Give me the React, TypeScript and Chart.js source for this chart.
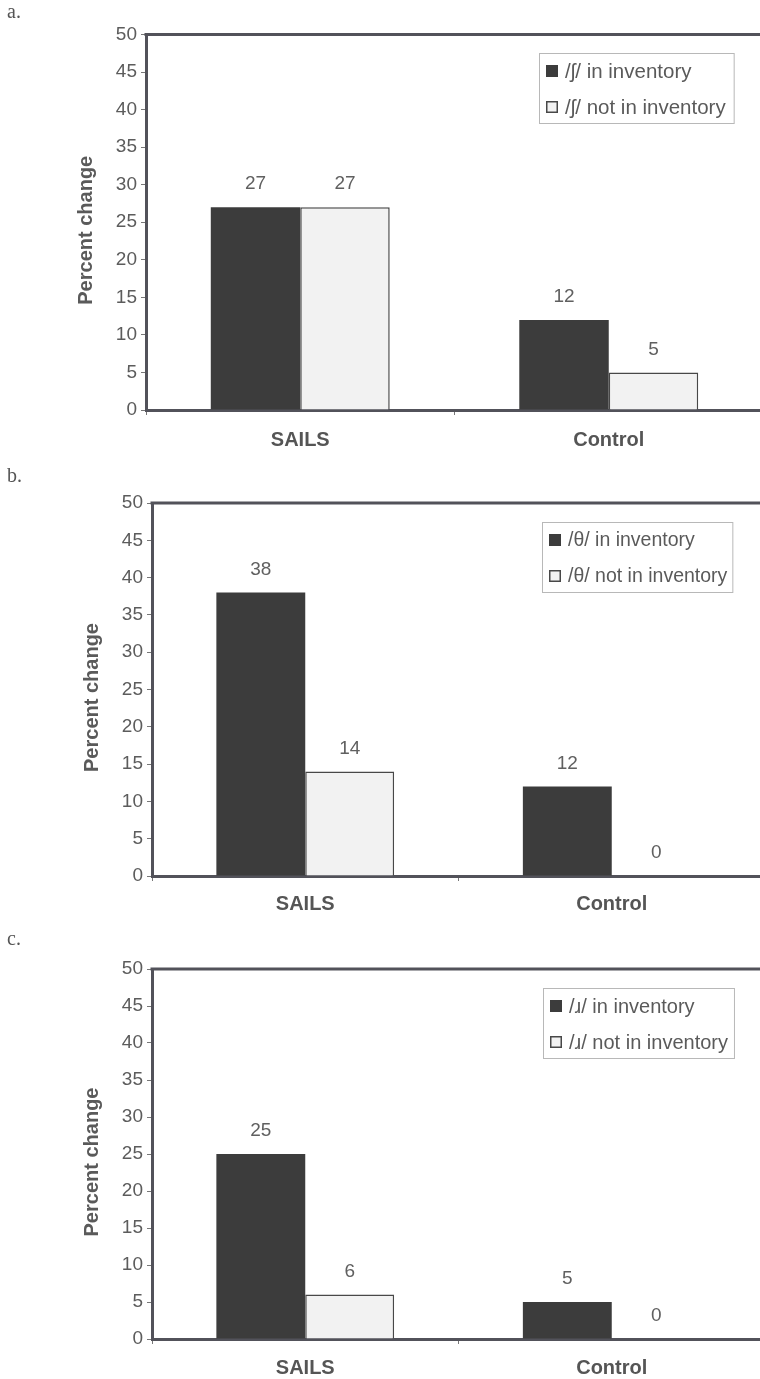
import React, { useEffect, useRef } from "react";
import { Chart, registerables } from "chart.js";

Chart.register(...registerables);

// ---- data ----
const categories = ["SAILS", "Control"];
const panelLetters = ["a.", "b.", "c."];
const phonemes = ["/ʃ/", "/θ/", "/ɹ/"];
const inInventoryA = [27, 12];
const notInInventoryA = [27, 5];
const inInventoryB = [38, 12];
const notInInventoryB = [14, 0];
const inInventoryC = [25, 5];
const notInInventoryC = [6, 0];
const yAxisTitle = "Percent change";
const yMin = 0;
const yMax = 50;
const yStep = 5;

// ---- styles / layout ----
const FONT = '"Liberation Sans", Arial, Helvetica, sans-serif';
const SERIF = '"Liberation Serif", "Times New Roman", serif';
const DARK = "#3c3c3c";
const LIGHT = "#f2f2f2";
const EDGE = "#484848";
const AXIS = "#52525a";
const TEXT = "#5a5a5a";
const CANVAS_W = 775;

type Layout = {
  top: number;
  height: number;
  axisX: number;
  plotTop: number;
  plotBottom: number;
  plotRight: number;
  letterBaseline: number;
  titleX: number;
  legendLeft: number;
  legendTop: number;
  legendFont: number;
  legendPadRight: number;
  xPad: number;
};

const layouts: Layout[] = [
  { top: 0, height: 460, axisX: 146, plotTop: 34.5, plotBottom: 410, plotRight: 763, letterBaseline: 18, titleX: 86, legendLeft: 539, legendTop: 53, legendFont: 20.5, legendPadRight: 8, xPad: 13 },
  { top: 460, height: 465, axisX: 152, plotTop: 503, plotBottom: 876, plotRight: 765, letterBaseline: 482, titleX: 92, legendLeft: 542, legendTop: 522, legendFont: 19.5, legendPadRight: 5, xPad: 11 },
  { top: 925, height: 454, axisX: 152, plotTop: 969, plotBottom: 1339, plotRight: 765, letterBaseline: 945, titleX: 92, legendLeft: 543, legendTop: 988, legendFont: 20, legendPadRight: 6, xPad: 12 },
];

const panels = [
  { letter: panelLetters[0], phoneme: phonemes[0], inInv: inInventoryA, notInv: notInInventoryA, layout: layouts[0] },
  { letter: panelLetters[1], phoneme: phonemes[1], inInv: inInventoryB, notInv: notInInventoryB, layout: layouts[1] },
  { letter: panelLetters[2], phoneme: phonemes[2], inInv: inInventoryC, notInv: notInInventoryC, layout: layouts[2] },
];

function Panel({ cfg }: { cfg: (typeof panels)[number] }) {
  const ref = useRef<HTMLCanvasElement>(null);

  useEffect(() => {
    const canvas = ref.current;
    if (!canvas) return;
    const L = cfg.layout;
    const W = CANVAS_W;
    const padTop = L.plotTop - L.top;
    const xAxisH = L.top + L.height - L.plotBottom;

    const decor = {
      id: "decor",
      afterDatasetsDraw(chart: any) {
        const ctx = chart.ctx as CanvasRenderingContext2D;
        ctx.save();
        ctx.fillStyle = "#606060";
        ctx.font = `19px ${FONT}`;
        ctx.textAlign = "center";
        ctx.textBaseline = "middle";
        chart.data.datasets.forEach((ds: any, i: number) => {
          const meta = chart.getDatasetMeta(i);
          meta.data.forEach((bar: any, j: number) => {
            ctx.fillText(String(ds.data[j]), bar.x, bar.y - 23);
          });
        });
        ctx.restore();
      },
      afterDraw(chart: any) {
        const ctx = chart.ctx as CanvasRenderingContext2D;
        const a = chart.chartArea;
        ctx.save();
        // top and right frame
        ctx.strokeStyle = AXIS;
        ctx.lineWidth = 3;
        ctx.beginPath();
        ctx.moveTo(a.left - 1.5, a.top);
        ctx.lineTo(a.right, a.top);
        ctx.lineTo(a.right, a.bottom);
        ctx.stroke();

        // panel letter
        ctx.fillStyle = "#555";
        ctx.font = `20px ${SERIF}`;
        ctx.textAlign = "left";
        ctx.textBaseline = "alphabetic";
        ctx.fillText(cfg.letter, 7, L.letterBaseline - L.top);

        // y title
        ctx.save();
        ctx.translate(L.titleX, (a.top + a.bottom) / 2 + 8);
        ctx.rotate(-Math.PI / 2);
        ctx.font = `bold 20px ${FONT}`;
        ctx.fillStyle = TEXT;
        ctx.textAlign = "center";
        ctx.textBaseline = "middle";
        ctx.fillText(yAxisTitle, 0, 0);
        ctx.restore();

        // legend
        const labels = chart.data.datasets.map((d: any) => d.label as string);
        ctx.font = `${L.legendFont}px ${FONT}`;
        const tw = Math.max(...labels.map((t: string) => ctx.measureText(t).width));
        const bx = L.legendLeft;
        const by = L.legendTop - L.top;
        const bw = 7 + 12 + 7 + tw + L.legendPadRight;
        const bh = 70;
        ctx.fillStyle = "#ffffff";
        ctx.fillRect(bx, by, bw, bh);
        ctx.strokeStyle = "#b8b8b8";
        ctx.lineWidth = 1;
        ctx.strokeRect(bx + 0.5, by + 0.5, bw, bh);
        const rows = [18, 54];
        labels.forEach((t: string, i: number) => {
          const cy = by + rows[i];
          const mx = bx + 7;
          if (i === 0) {
            ctx.fillStyle = DARK;
            ctx.fillRect(mx, cy - 6, 12, 12);
          } else {
            ctx.fillStyle = LIGHT;
            ctx.fillRect(mx, cy - 6, 12, 12);
            ctx.strokeStyle = EDGE;
            ctx.lineWidth = 1.5;
            ctx.strokeRect(mx + 0.75, cy - 5.25, 10.5, 10.5);
          }
          ctx.fillStyle = TEXT;
          ctx.textAlign = "left";
          ctx.textBaseline = "middle";
          ctx.fillText(t, mx + 19, cy + 1);
        });
        ctx.restore();
      },
    };

    const chart = new Chart(canvas, {
      type: "bar",
      data: {
        labels: categories,
        datasets: [
          {
            label: `${cfg.phoneme} in inventory`,
            data: cfg.inInv,
            backgroundColor: DARK,
            borderColor: DARK,
            borderWidth: 0,
          },
          {
            label: `${cfg.phoneme} not in inventory`,
            data: cfg.notInv,
            backgroundColor: LIGHT,
            borderColor: EDGE,
            borderWidth: 1.5,
            borderSkipped: "bottom",
          },
        ],
      },
      options: {
        responsive: false,
        animation: false,
        devicePixelRatio: 1,
        layout: { padding: { top: padTop, left: 0, right: W - L.plotRight, bottom: 0 } },
        plugins: { legend: { display: false }, tooltip: { enabled: false } },
        datasets: { bar: { categoryPercentage: 0.58, barPercentage: 1 } },
        scales: {
          x: {
            z: 1,
            grid: { display: true, drawOnChartArea: false, drawTicks: true, tickLength: 5, color: "#777", offset: true },
            border: { display: true, color: AXIS, width: 3 },
            ticks: { color: "#555", font: { family: FONT, size: 20, weight: "bold" }, padding: L.xPad },
            afterFit(s: any) {
              s.height = xAxisH;
            },
          },
          y: {
            z: 1,
            min: yMin,
            max: yMax,
            ticks: { stepSize: yStep, color: "#5c5c5c", font: { family: FONT, size: 19 }, padding: 4 },
            grid: { drawOnChartArea: false, drawTicks: true, tickLength: 5, color: "#777" },
            border: { display: true, color: AXIS, width: 3 },
            afterFit(s: any) {
              s.width = L.axisX;
            },
          },
        },
      } as any,
      plugins: [decor],
    });
    return () => chart.destroy();
  }, [cfg]);

  const L = cfg.layout;
  return (
    <canvas
      ref={ref}
      width={CANVAS_W}
      height={L.height}
      style={{ position: "absolute", left: 0, top: L.top, width: CANVAS_W, height: L.height, display: "block" }}
    />
  );
}

export default function App() {
  return (
    <div
      style={{
        position: "absolute",
        left: 0,
        top: 0,
        width: 760,
        height: 1379,
        overflow: "hidden",
        background: "#ffffff",
      }}
    >
      {panels.map((p, i) => (
        <Panel key={i} cfg={p} />
      ))}
    </div>
  );
}
